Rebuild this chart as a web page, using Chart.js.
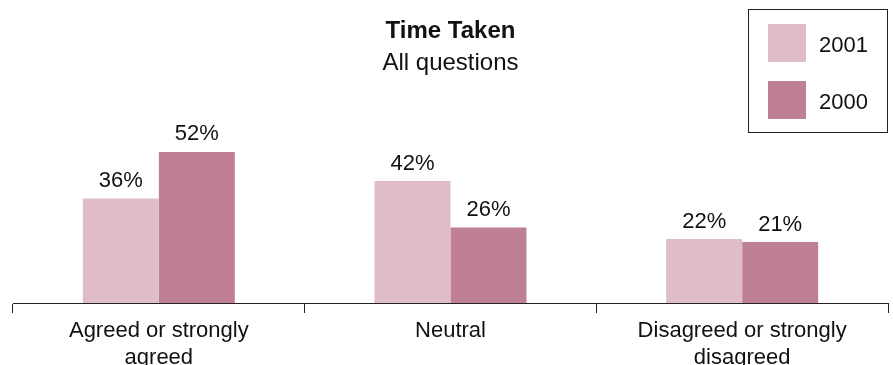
<!DOCTYPE html>
<html>
<head>
<meta charset="utf-8">
<script src="https://cdn.jsdelivr.net/npm/chart.js@4/dist/chart.umd.min.js"></script>
<style>
html,body{margin:0;padding:0;background:#fff;}
#wrap{width:893px;height:365px;}
</style>
</head>
<body>
<div id="wrap"><canvas id="c" width="893" height="365"></canvas></div>
<script>
const categories = [["Agreed or strongly","agreed"], "Neutral", ["Disagreed or strongly","disagreed"]];
const seriesNames = ["2001", "2000"];
const values2001 = [36, 42, 22];
const values2000 = [52, 26, 21];
const colors = ["#DEBCCA", "#BF7F96"];
const FONT = "'Liberation Sans', Arial, sans-serif";

const valueLabels = {
  id: 'valueLabels',
  afterDatasetsDraw(chart) {
    const ctx = chart.ctx;
    ctx.save();
    ctx.font = "22px " + FONT;
    ctx.fillStyle = "#111";
    ctx.textAlign = "center";
    ctx.textBaseline = "alphabetic";
    chart.data.datasets.forEach((ds, i) => {
      chart.getDatasetMeta(i).data.forEach((bar, j) => {
        ctx.fillText(ds.data[j] + "%", bar.x, bar.y - 11.5);
      });
    });
    ctx.restore();
  }
};

const boxLegend = {
  id: 'boxLegend',
  afterDraw(chart) {
    const ctx = chart.ctx;
    ctx.save();
    ctx.strokeStyle = "#222";
    ctx.lineWidth = 1;
    ctx.strokeRect(748.5, 9.5, 139, 123);
    ctx.font = "22px " + FONT;
    ctx.textAlign = "left";
    ctx.textBaseline = "alphabetic";
    chart.data.datasets.forEach((ds, i) => {
      const y = 24 + i * 57;
      ctx.fillStyle = ds.backgroundColor;
      ctx.fillRect(768, y, 38, 38);
      ctx.fillStyle = "#111";
      ctx.fillText(ds.label, 819, y + 27.5);
    });
    ctx.restore();
  }
};

new Chart(document.getElementById('c'), {
  type: 'bar',
  data: {
    labels: categories,
    datasets: [
      { label: seriesNames[0], data: values2001, backgroundColor: colors[0] },
      { label: seriesNames[1], data: values2000, backgroundColor: colors[1] }
    ]
  },
  options: {
    responsive: false,
    animation: false,
    devicePixelRatio: 1,
    layout: { padding: { left: 13, right: 5, top: 0, bottom: 0 } },
    datasets: { bar: { barPercentage: 1.0, categoryPercentage: 0.521, borderWidth: 0 } },
    plugins: {
      legend: { display: false },
      tooltip: { enabled: false },
      title: {
        display: true, text: "Time Taken", color: "#111",
        font: { family: FONT, size: 24, weight: 'bold', lineHeight: 1.2 },
        padding: { top: 16.5, bottom: 3.5 }
      },
      subtitle: {
        display: true, text: "All questions", color: "#111",
        font: { family: FONT, size: 24, weight: 'normal', lineHeight: 1.2 },
        padding: { top: 0, bottom: 6.1 }
      }
    },
    scales: {
      x: {
        offset: true,
        grid: { display: true, drawOnChartArea: false, drawTicks: true, tickLength: 10, color: "#222", lineWidth: 1, offset: true },
        border: { display: true, color: "#222", width: 1 },
        ticks: { color: "#111", maxRotation: 0, autoSkip: false, padding: 5,
                 font: { family: FONT, size: 22, lineHeight: 1.2 } },
        afterFit(scale) { scale.height = 62; }
      },
      y: {
        display: false, min: 0, max: 75.5
      }
    }
  },
  plugins: [valueLabels, boxLegend]
});
</script>
</body>
</html>
